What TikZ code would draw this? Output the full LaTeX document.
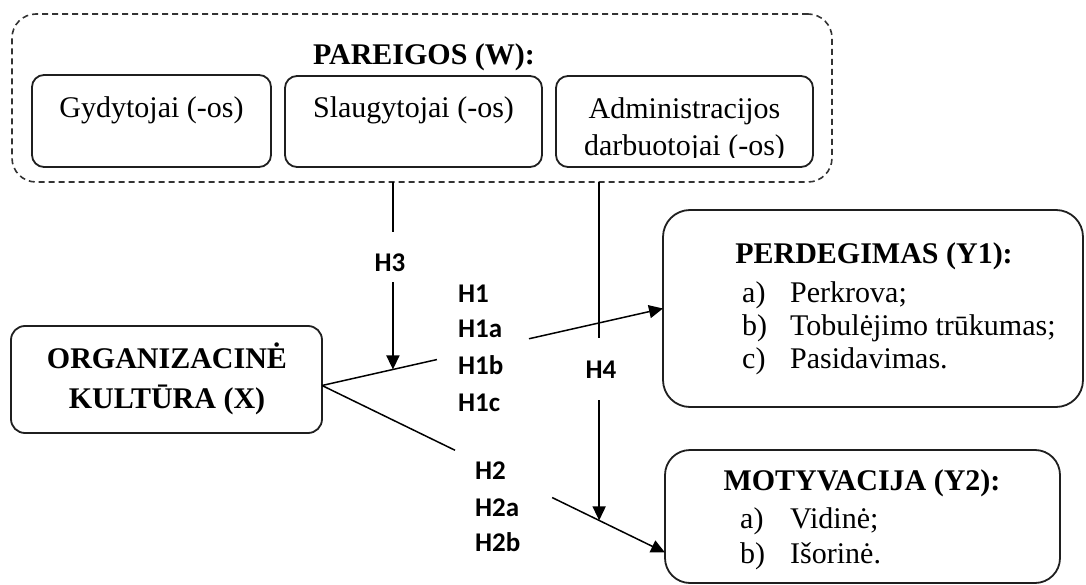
\documentclass[tikz,border=0pt]{standalone}
\usepackage{fontspec}
\setmainfont{Liberation Serif}
\newfontfamily\hfont{Carlito}
\usetikzlibrary{arrows.meta,calc}
\begin{document}
\begin{tikzpicture}[x=1pt,y=-1pt,
  box/.style={draw=black!88,line width=1.8pt,rounded corners=#1,inner sep=0pt,outer sep=0pt},
  groupbox/.style={draw=black!80,line width=1.6pt,dash pattern=on 6pt off 4pt,rounded corners=24pt,inner sep=0pt,outer sep=0pt},
  txt/.style={font=\fontsize{30}{36}\selectfont,inner sep=0pt,anchor=base},
  ttl/.style={txt,font=\fontsize{30}{36}\selectfont\bfseries},
  item/.style={txt,anchor=base west},
  hyp/.style={font=\hfont\bfseries\fontsize{27}{32}\selectfont,inner sep=0pt,anchor=base west},
  ln/.style={line width=1.5pt,draw=black},
  arr/.style={ln,-{Triangle[length=14pt,width=13pt]}},
]
\useasboundingbox (0,0) rectangle (1086,585);

% moderator group
\node[groupbox,minimum width=820pt,minimum height=168pt] (pareigos) at (422,98) {};
\node[ttl] (wtitle) at (424,65) {PAREIGOS (W):};
\node[box=12pt,minimum width=239pt,minimum height=92pt] (gyd) at (151.5,121) {};
\node[box=12pt,minimum width=257pt,minimum height=91pt] (slg) at (413.5,121.5) {};
\node[box=12pt,minimum width=257pt,minimum height=91pt] (adm) at (684.5,121.5) {};
\node[txt] (gydt) at (gyd |- 0,118) {Gydytojai (-os)};
\node[txt] (slgt) at (slg |- 0,118) {Slaugytojai (-os)};
\node[txt] (admt1) at (adm |- 0,119) {Administracijos};
\begin{scope}
  \clip ([xshift=2pt,yshift=-2pt]adm.north west) rectangle ([xshift=-2pt,yshift=9pt]adm.south east);
  \node[txt] (admt2) at (adm |- 0,156) {darbuotojai (-os)};
\end{scope}

% independent variable
\node[box=14pt,minimum width=311pt,minimum height=107pt] (org) at (166.5,379.5) {};
\node[ttl] (orgt1) at (167,368) {ORGANIZACINĖ};
\node[ttl] (orgt2) at (167,408) {KULTŪRA (X)};

% outcome: burnout
\node[box=27pt,minimum width=420pt,minimum height=197pt] (y1) at (873,308.5) {};
\node[ttl] (y1t) at (874,263) {PERDEGIMAS (Y1):};
\node[item] (y1a) at (742,302) {\makebox[48pt][l]{a)}Perkrova;};
\node[item] (y1b) at (742,335) {\makebox[48pt][l]{b)}Tobulėjimo trūkumas;};
\node[item] (y1c) at (742,368) {\makebox[48pt][l]{c)}Pasidavimas.};

% outcome: motivation
\node[box=25pt,minimum width=395pt,minimum height=133pt] (y2) at (862.5,516.5) {};
\node[ttl] (y2t) at (862,490) {MOTYVACIJA (Y2):};
\node[item] (y2a) at (740,528) {\makebox[50pt][l]{a)}Vidinė;};
\node[item] (y2b) at (740,563) {\makebox[50pt][l]{b)}Išorinė.};

% hypothesis labels
\node[hyp] (h1) at (458,302) {H1};
\node[hyp] (h1a) at (458,337) {H1a};
\node[hyp] (h1b) at (458,374) {H1b};
\node[hyp] (h1c) at (458,411) {H1c};
\node[hyp] (h2) at (475,479) {H2};
\node[hyp] (h2a) at (475,516) {H2a};
\node[hyp] (h2b) at (475,551) {H2b};
\node[hyp,anchor=base] (h3) at (390,271) {H3};
\node[hyp,anchor=base] (h4) at (601,378) {H4};

% connector points
\coordinate (xo) at ([yshift=-6pt]org.east);
\coordinate (y2in) at ([yshift=-36pt]y2.west);
\coordinate (g1s) at ($(xo)!0.337!(y1.west)$);
\coordinate (g1e) at ($(xo)!0.607!(y1.west)$);
\coordinate (g2s) at ($(xo)!0.388!(y2in)$);
\coordinate (g2e) at ($(xo)!0.671!(y2in)$);
\coordinate (h3tip) at ($(xo)!0.208!(y1.west)$);
\coordinate (h4tip) at ($(xo)!0.808!(y2in)$);
\coordinate (h3top) at (pareigos.south -| h3tip);
\coordinate (h4top) at (pareigos.south -| h4tip);
\coordinate (h3g1) at ($(h3top)+(0,50)$);
\coordinate (h3g2) at ($(h3top)+(0,100)$);
\coordinate (h4g1) at ($(h4top)+(0,156)$);
\coordinate (h4g2) at ($(h4top)+(0,218)$);

% direct effects
\draw[ln] (xo) -- (g1s);
\draw[arr] (g1e) -- (y1.west);
\draw[ln] (xo) -- (g2s);
\draw[arr] (g2e) -- (y2in);

% moderation effects
\draw[ln] (h3top) -- (h3g1);
\draw[arr] (h3g2) -- (h3tip);
\draw[ln] (h4top) -- (h4g1);
\draw[arr] (h4g2) -- (h4tip);
\end{tikzpicture}
\end{document}
